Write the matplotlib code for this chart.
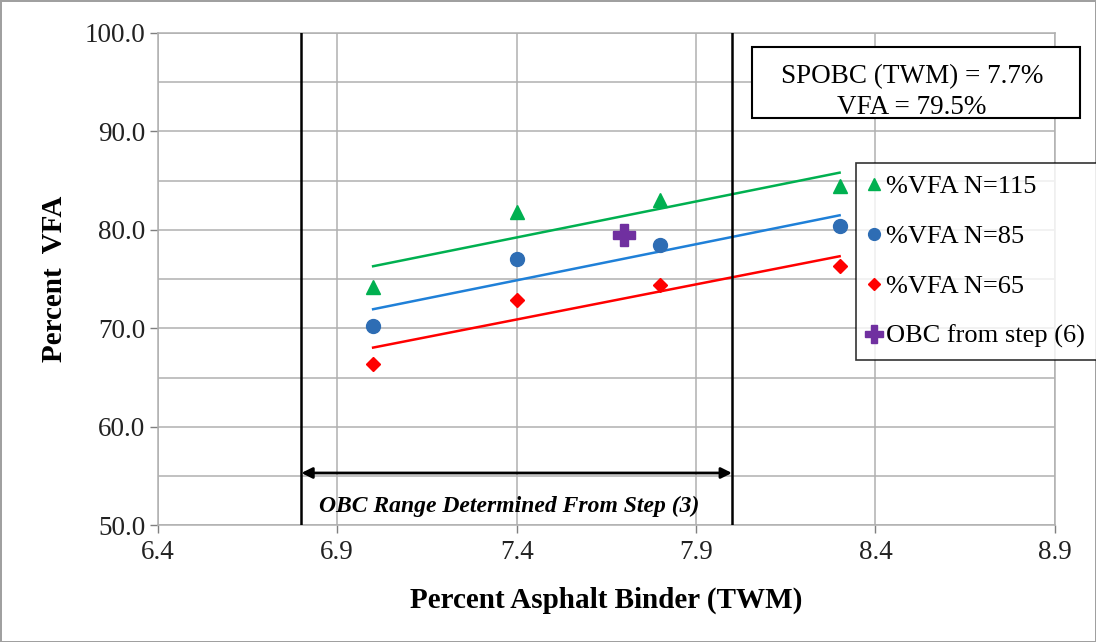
import numpy as np
import matplotlib.pyplot as plt
from matplotlib.patches import Rectangle

# binder contents and VFA values
binder = [7.0, 7.4, 7.8, 8.3]
vfa_115 = [74.2, 81.8, 83.0, 84.5]
vfa_85 = [70.2, 77.0, 78.5, 80.4]
vfa_65 = [66.4, 72.9, 74.4, 76.3]
obc_x = [7.7]
obc_y = [79.5]
range_limits = [6.8, 8.0]

plt.rcParams['font.family'] = ['Liberation Serif', 'DejaVu Serif']

fig = plt.figure(figsize=(10.96, 6.42), dpi=100)
fig.patch.set_edgecolor('#a0a0a0')
fig.patch.set_linewidth(2)
ax = fig.add_axes([0.144, 0.182, 0.8185, 0.7666])

grid_col = '#b0b0b0'
x = np.array(binder)
series = [
    (vfa_115, '^', '#00B050', '#00B050', '%VFA N=115', 10),
    (vfa_85, 'o', '#2E6DB4', '#1F80D8', '%VFA N=85', 10),
    (vfa_65, 'D', '#FF0000', '#FF0000', '%VFA N=65', 7.5),
]
handles = []
for vals, mk, mcol, lcol, lab, ms in series:
    # linear trend line over the data range
    k, b = np.polyfit(x, vals, 1)
    ax.plot(x, k * x + b, color=lcol, lw=1.8, zorder=3)
    h, = ax.plot(x, vals, mk, color=mcol, ms=ms, ls='none', label=lab, zorder=4)
    handles.append(h)

h, = ax.plot(obc_x, obc_y, 'P', color='#7030A0', ms=16, ls='none',
             label='OBC from step (6)', zorder=5)
handles.append(h)

# OBC range boundaries
for v in range_limits:
    ax.axvline(v, color='black', lw=1.8, zorder=3)
ax.annotate('', xy=(range_limits[0], 55.3), xytext=(range_limits[1], 55.3),
            arrowprops=dict(arrowstyle='<|-|>', color='black', lw=2,
                            mutation_scale=16, shrinkA=0, shrinkB=0), zorder=4)
ax.text(7.38, 51.9, 'OBC Range Determined From Step (3)',
        ha='center', va='center', fontsize=17, fontweight='bold', style='italic')

ax.set_xlim(6.4, 8.9)
ax.set_ylim(50, 100)
ax.set_xticks(np.arange(6.4, 8.95, 0.5))
ax.set_xticklabels(['6.4', '6.9', '7.4', '7.9', '8.4', '8.9'])
ax.set_yticks(np.arange(50, 101, 10))
ax.set_yticklabels(['%.1f' % v for v in np.arange(50, 101, 10)])
ax.set_yticks(np.arange(55, 100, 10), minor=True)
ax.tick_params(axis='both', which='major', labelsize=19.5, colors='#7f7f7f',
               labelcolor='#222222', length=6, width=1)
ax.tick_params(axis='y', which='minor', length=0)
ax.tick_params(axis='x', pad=5)
ax.tick_params(axis='y', pad=3)
ax.grid(True, which='major', color=grid_col, lw=1.1)
ax.grid(True, which='minor', axis='y', color=grid_col, lw=1.1)
ax.set_axisbelow(True)
for s in ax.spines.values():
    s.set_color(grid_col)
    s.set_linewidth(1.1)

ax.set_xlabel('Percent Asphalt Binder (TWM)', fontsize=21, fontweight='bold', labelpad=15)
ax.set_ylabel('Percent  VFA', fontsize=21, fontweight='bold', labelpad=12)

# result box
fig.patches.append(Rectangle((752 / 1096, 1 - 118 / 642), 328 / 1096, 71 / 642,
                             transform=fig.transFigure, facecolor='white',
                             edgecolor='black', lw=1.5, zorder=10))
fig.text(912 / 1096, 1 - 92 / 642, 'SPOBC (TWM) = 7.7%\nVFA = 79.5%',
         ha='center', va='center', fontsize=19.5, linespacing=1.35, zorder=11)

leg = fig.legend(handles=handles, loc='upper left', bbox_to_anchor=(856 / 1096, 1 - 163 / 642),
                 borderaxespad=0, fontsize=19, frameon=True, fancybox=False,
                 handlelength=0.5, handletextpad=0.2, labelspacing=1.0,
                 borderpad=0.45, markerscale=0.85)
leg.get_frame().set_edgecolor('black')
leg.get_frame().set_linewidth(1.2)

fig.savefig('out.png', dpi=100)
